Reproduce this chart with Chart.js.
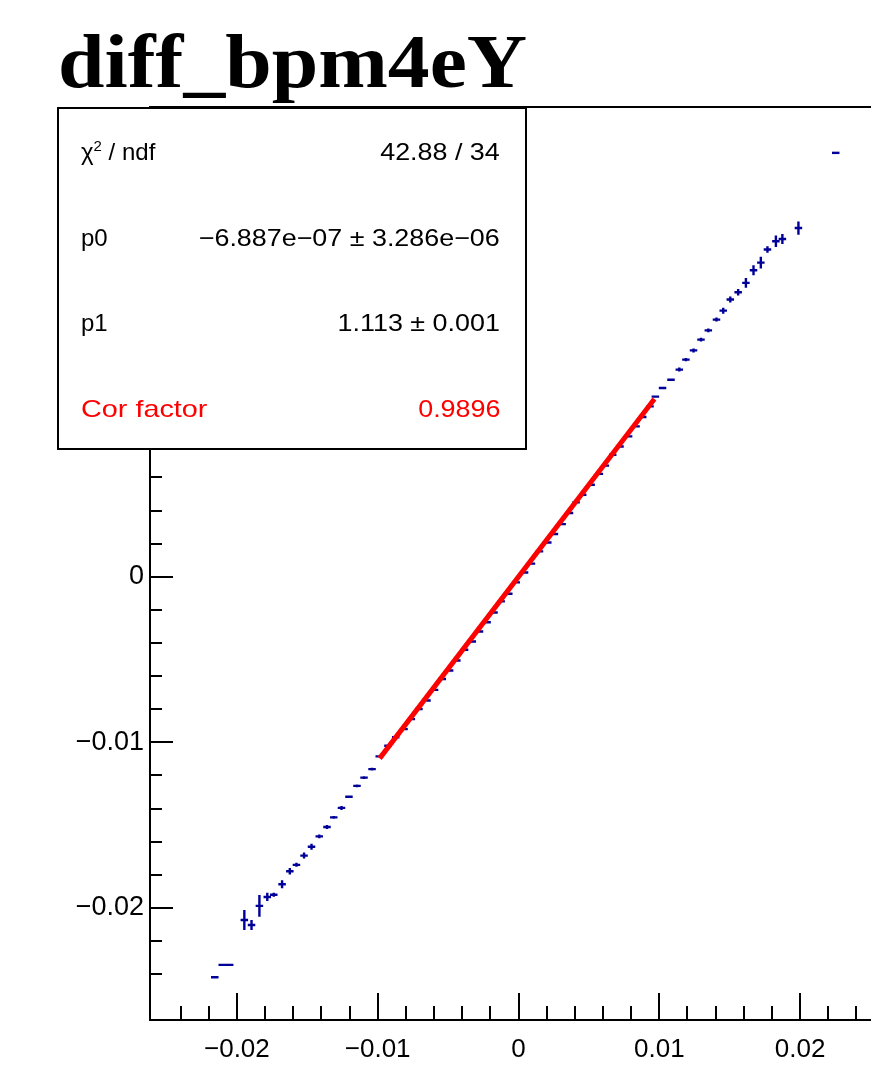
<!DOCTYPE html>
<html>
<head>
<meta charset="utf-8">
<script src="https://cdn.jsdelivr.net/npm/chart.js@4.4.0/dist/chart.umd.min.js"></script>
<style>
  html, body { margin: 0; padding: 0; background: #fff; overflow: hidden; }
  #wrap { position: relative; width: 871px; height: 1078px; overflow: hidden; }
  #plot { position: absolute; left: 0; top: 0; }
  #title { position: absolute; left: 58px; top: 23px; font: bold 76px "Liberation Serif", serif; line-height: 76px;
           white-space: nowrap; transform: scaleX(1.1); transform-origin: left center; }
  #stats { position: absolute; left: 57px; top: 107px; width: 466px; height: 339px; border: 2px solid #000; background: #fff;
           font-family: "Liberation Sans", Arial, sans-serif; font-size: 24px; color: #000; }
  .row { position: absolute; left: 0; right: 0; height: 30px; line-height: 30px; white-space: nowrap; }
  .lab { position: absolute; left: 22px; }
  .wide { transform: scaleX(1.2); transform-origin: left center; }
  .val { position: absolute; right: 25px; transform: scaleX(1.12); transform-origin: right center; }
  .red { color: #ff0000; }
  sup { font-size: 15px; line-height: 0; vertical-align: 9px; }
</style>
</head>
<body>
<div id="wrap">
  <canvas id="plot" width="901" height="1078"></canvas>
  <div id="title">diff_bpm4eY</div>
  <div id="stats">
    <div class="row" style="top:28px"><span class="lab">&chi;<sup>2</sup> / ndf</span><span class="val">42.88 / 34</span></div>
    <div class="row" style="top:114px"><span class="lab">p0</span><span class="val">&minus;6.887e&minus;07 &plusmn; 3.286e&minus;06</span></div>
    <div class="row" style="top:199px"><span class="lab">p1</span><span class="val">1.113 &plusmn; 0.001</span></div>
    <div class="row red" style="top:285px"><span class="lab wide">Cor factor</span><span class="val">0.9896</span></div>
  </div>
</div>
<script>
// profile points (bin centre, mean, error on mean)
const xVals = [
  -0.02157, -0.02104, -0.02051, -0.01947, -0.01896, -0.01840, -0.01784, -0.01738, -0.01679, -0.01624,
  -0.01577, -0.01523, -0.01470, -0.01415, -0.01360, -0.01312, -0.01257, -0.01204, -0.01147, -0.01097,
  -0.01040, -0.00989, -0.00927, -0.00872, -0.00813, -0.00761, -0.00707, -0.00650, -0.00596, -0.00541,
  -0.00489, -0.00438, -0.00383, -0.00328, -0.00277, -0.00223, -0.00174, -0.00123, -0.00069, -0.00016,
   0.00043,  0.00092,  0.00149,  0.00208,  0.00255,  0.00310,  0.00362,  0.00409,  0.00456,  0.00516,
   0.00574,  0.00617,  0.00669,  0.00721,  0.00782,  0.00835,  0.00882,  0.00934,  0.00972,  0.01023,
   0.01083,  0.01142,  0.01189,  0.01243,  0.01296,  0.01348,  0.01406,  0.01454,  0.01504,  0.01560,
   0.01615,  0.01669,  0.01721,  0.01768,  0.01828,  0.01874,  0.01988,  0.02253
];
const yVals = [
  -0.02419, -0.02344, -0.02344, -0.02073, -0.02103, -0.01988, -0.01934, -0.01921, -0.01857, -0.01779,
  -0.01740, -0.01684, -0.01631, -0.01568, -0.01511, -0.01453, -0.01396, -0.01329, -0.01263, -0.01213,
  -0.01162, -0.01085, -0.01021, -0.00969, -0.00920, -0.00860, -0.00799, -0.00747, -0.00683, -0.00618,
  -0.00566, -0.00506, -0.00441, -0.00391, -0.00331, -0.00275, -0.00216, -0.00149, -0.00103, -0.00034,
   0.00026,  0.00079,  0.00153,  0.00207,  0.00258,  0.00318,  0.00385,  0.00449,  0.00495,  0.00556,
   0.00621,  0.00671,  0.00737,  0.00787,  0.00848,  0.00908,  0.00965,  0.01029,  0.01088,  0.01140,
   0.01190,  0.01251,  0.01311,  0.01367,  0.01432,  0.01488,  0.01553,  0.01607,  0.01674,  0.01718,
   0.01775,  0.01851,  0.01897,  0.01976,  0.02026,  0.02040,  0.02106,  0.02560
];
const yErrs = [
  0.00003, 0.00003, 0.00003, 0.00060, 0.00030, 0.00066, 0.00025, 0.00012, 0.00024, 0.00020,
  0.00012, 0.00018, 0.00018, 0.00012, 0.00012, 0.00008, 0.00012, 0.00008, 0.00008, 0.00008,
  0.00008, 0.00006, 0.00006, 0.00006, 0.00006, 0.00006, 0.00006, 0.00006, 0.00006, 0.00006,
  0.00006, 0.00006, 0.00006, 0.00006, 0.00006, 0.00006, 0.00006, 0.00006, 0.00006, 0.00006,
  0.00006, 0.00006, 0.00006, 0.00006, 0.00006, 0.00006, 0.00006, 0.00006, 0.00006, 0.00006,
  0.00006, 0.00006, 0.00006, 0.00006, 0.00006, 0.00006, 0.00006, 0.00006, 0.00006, 0.00008,
  0.00008, 0.00012, 0.00010, 0.00012, 0.00012, 0.00012, 0.00012, 0.00018, 0.00018, 0.00020,
  0.00030, 0.00030, 0.00035, 0.00020, 0.00035, 0.00030, 0.00040, 0.00000
];
const binHalfWidth = 0.000266;

// pol1 fit, drawn over its fit range
const fitX = [-0.00986, 0.00965];
const fitY = [-0.01097, 0.01074];

const xTickValues = [-0.02, -0.01, 0, 0.01, 0.02];
const xTickLabels = ['\u22120.02', '\u22120.01', '0', '0.01', '0.02'];
const yTickValues = [-0.02, -0.01, 0, 0.01, 0.02];
const yTickLabels = ['\u22120.02', '\u22120.01', '0', '0.01', '0.02'];

const pointColor = '#000099';
const fitColor = '#ff0000';

function findLabel(values, labels, v) {
  const i = values.findIndex(t => Math.abs(t - v) < 1e-7);
  return i >= 0 ? labels[i] : '';
}
function isMajor(values, v) {
  return values.some(t => Math.abs(t - v) < 1e-7);
}
function onGrid(v) {
  return Math.abs(v / 0.002 - Math.round(v / 0.002)) < 1e-6;
}

const rootStyle = {
  id: 'rootStyle',
  beforeDatasetsDraw(chart) {
    const { ctx, scales: { x, y } } = chart;
    const meta = chart.getDatasetMeta(1);
    ctx.save();
    ctx.strokeStyle = pointColor;
    ctx.lineWidth = 2.4;
    meta.data.forEach((pt, i) => {
      const px = pt.x, py = pt.y;
      const x0 = x.getPixelForValue(xVals[i] - binHalfWidth);
      const x1 = x.getPixelForValue(xVals[i] + binHalfWidth);
      const y0 = y.getPixelForValue(yVals[i] - yErrs[i]);
      const y1 = y.getPixelForValue(yVals[i] + yErrs[i]);
      ctx.beginPath();
      ctx.moveTo(x0, py); ctx.lineTo(x1, py);
      ctx.moveTo(px, y0); ctx.lineTo(px, y1);
      ctx.stroke();
    });
    ctx.restore();
  },
  afterDraw(chart) {
    const { ctx, chartArea: a, scales: { x, y } } = chart;
    ctx.save();
    ctx.strokeStyle = '#000';
    ctx.lineWidth = 2;
    ctx.strokeRect(a.left, a.top, a.right - a.left, a.bottom - a.top);
    ctx.beginPath();
    x.ticks.forEach((t, i) => {
      if (!onGrid(t.value)) return;
      const px = Math.round(x.getPixelForTick(i));
      const len = isMajor(xTickValues, t.value) ? 27 : 14;
      ctx.moveTo(px, a.bottom); ctx.lineTo(px, a.bottom - len);
    });
    y.ticks.forEach((t, i) => {
      if (!onGrid(t.value)) return;
      const py = Math.round(y.getPixelForTick(i));
      const len = isMajor(yTickValues, t.value) ? 23 : 12;
      ctx.moveTo(a.left, py); ctx.lineTo(a.left + len, py);
    });
    ctx.stroke();
    ctx.restore();
  }
};

new Chart(document.getElementById('plot'), {
  type: 'scatter',
  data: {
    datasets: [
      {
        type: 'line',
        data: fitX.map((v, i) => ({ x: v, y: fitY[i] })),
        borderColor: fitColor,
        borderWidth: 5,
        pointRadius: 0,
        fill: false
      },
      {
        data: xVals.map((v, i) => ({ x: v, y: yVals[i] })),
        pointRadius: 0,
        backgroundColor: pointColor,
        borderColor: pointColor
      }
    ]
  },
  options: {
    responsive: false,
    animation: false,
    devicePixelRatio: 1,
    layout: { padding: { top: 107, right: 0, left: 0, bottom: 0 } },
    plugins: { legend: { display: false }, tooltip: { enabled: false }, title: { display: false } },
    scales: {
      x: {
        type: 'linear',
        min: -0.02617,
        max: 0.02617,
        grid: { display: false, drawTicks: false },
        border: { display: false },
        ticks: {
          stepSize: 0.002,
          autoSkip: false,
          maxRotation: 0,
          padding: 14,
          color: '#000',
          font: { family: 'Liberation Sans', size: 26 },
          callback: v => findLabel(xTickValues, xTickLabels, v)
        },
        afterFit: s => { s.height = 58; }
      },
      y: {
        type: 'linear',
        min: -0.02677,
        max: 0.02837,
        grid: { display: false, drawTicks: false },
        border: { display: false },
        ticks: {
          stepSize: 0.002,
          autoSkip: false,
          padding: 6,
          color: '#000',
          font: { family: 'Liberation Sans', size: 27 },
          callback: v => findLabel(yTickValues, yTickLabels, v)
        },
        afterFit: s => { s.width = 150; }
      }
    }
  },
  plugins: [rootStyle]
});
</script>
</body>
</html>
